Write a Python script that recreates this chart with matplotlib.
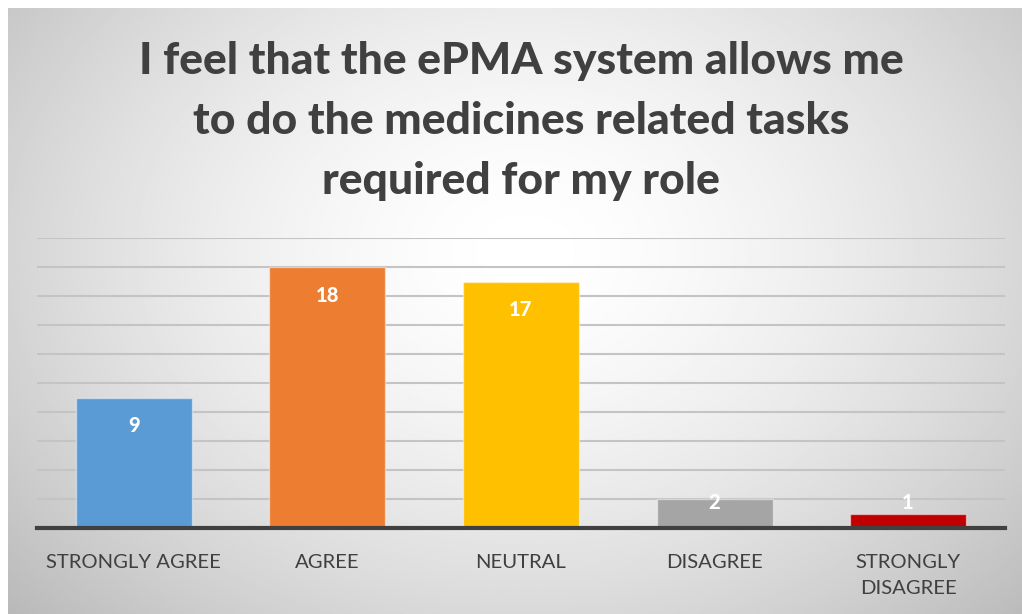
import numpy as np
import matplotlib
matplotlib.use("Agg")
import matplotlib.pyplot as plt

# survey responses
categories = ["STRONGLY AGREE", "AGREE", "NEUTRAL", "DISAGREE", "STRONGLY\nDISAGREE"]
counts = [9, 18, 17, 2, 1]
colors = ["#5B9BD5", "#ED7D31", "#FFC000", "#A5A5A5", "#C00000"]
title = "I feel that the ePMA system allows me\nto do the medicines related tasks\nrequired for my role"

plt.rcParams['font.family'] = ['Lato', 'DejaVu Sans']

fig = plt.figure(figsize=(10.22, 6.14), dpi=100)
fig.patch.set_facecolor("white")

# radial grey gradient behind the chart
bg = fig.add_axes([8 / 1022, 0, 1014 / 1022, 606 / 614], zorder=0)
yy, xx = np.mgrid[0:300, 0:500]
cx, cy = 0.51, 0.40
r = np.sqrt(((xx / 499 - cx) / 0.75) ** 2 + ((yy / 299 - cy) / 0.95) ** 2)
shade = np.clip(1.0 - 0.31 * r ** 1.6, 0.70, 1.0)
bg.imshow(shade, cmap="gray", vmin=0, vmax=1, aspect="auto", extent=[0, 1, 0, 1], origin="upper")
bg.set_axis_off()

ax = fig.add_axes([37 / 1022, 1 - 528 / 614, 968 / 1022, 290 / 614], zorder=1)
ax.patch.set_alpha(0)

x = np.arange(len(categories))
ax.bar(x, counts, width=0.6, color=colors, edgecolor=(1, 1, 1, 0.45), linewidth=1.0, zorder=3)

for xi, v in zip(x, counts):
    ax.text(xi, max(v - 1.95, 1.75), str(v), ha="center", va="center",
            color="white", fontsize=14.5, fontweight="black", zorder=4)

ax.set_xlim(-0.5, len(categories) - 0.5)
ax.set_ylim(0, 20)
ax.set_yticks(np.arange(0, 21, 2))
ax.yaxis.grid(True, color="#c4c4c4", linewidth=1.5, zorder=0)
ax.tick_params(axis="y", left=False, labelleft=False)
ax.tick_params(axis="x", bottom=False, pad=15, labelsize=14.6, labelcolor="#404040")
ax.set_xticks(x)
ax.set_xticklabels(categories, linespacing=1.7)
for s in ["top", "right", "left"]:
    ax.spines[s].set_visible(False)
ax.spines["bottom"].set_color("#404040")
ax.spines["bottom"].set_linewidth(3)
ax.spines["bottom"].set_zorder(5)

fig.text(521 / 1022, 1 - 121 / 614, title, ha="center", va="center",
         fontsize=32, fontweight="black", color="#404040", linespacing=1.6)

fig.savefig("out.png", dpi=100)
